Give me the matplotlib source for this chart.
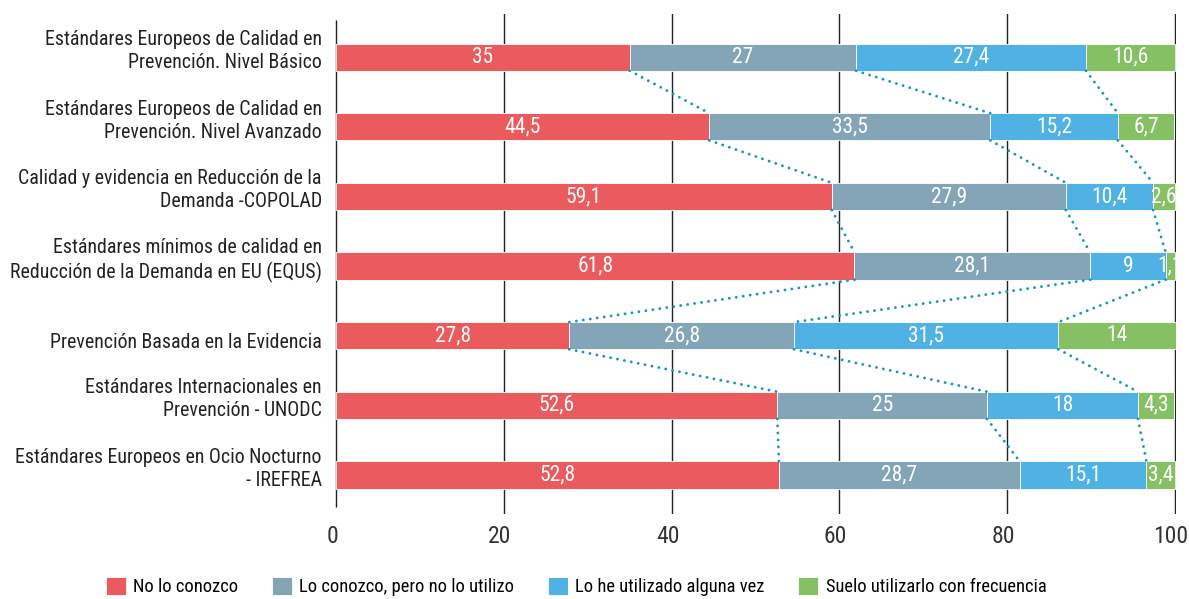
import matplotlib
matplotlib.use("Agg")
import matplotlib.pyplot as plt
from matplotlib import font_manager
from matplotlib.patches import Patch
from matplotlib.transforms import ScaledTranslation

#------------------ font: prefer a condensed face, else shrink a regular one
NARROW = {"condensed", "semi-condensed", "extra-condensed", "ultra-condensed"}


def pick_font():
    found = []
    for f in font_manager.fontManager.ttflist:
        st = f.stretch
        narrow = (str(st) in NARROW or (isinstance(st, int) and st < 500)
                  or "Condensed" in f.name or "Narrow" in f.name)
        if narrow and f.style == "normal" and f.weight in (400, "normal", "regular"):
            found.append((f.name, st))
    for pref in ("Roboto", "Noto Sans", "Open Sans", "DejaVu Sans", "Liberation"):
        for name, st in found:
            if name.startswith(pref):
                return name, st, 1.0
    if found:
        return found[0][0], found[0][1], 1.0
    return "Roboto", "normal", 0.84


FONT, STRETCH, SCALE = pick_font()
plt.rcParams["font.family"] = [FONT, "DejaVu Sans"]
plt.rcParams["font.stretch"] = STRETCH

#------------------ data
categories = [
    "Estándares Europeos de Calidad en\nPrevención. Nivel Básico",
    "Estándares Europeos de Calidad en\nPrevención. Nivel Avanzado",
    "Calidad y evidencia en Reducción de la\nDemanda -COPOLAD",
    "Estándares mínimos de calidad en\nReducción de la Demanda en EU (EQUS)",
    "Prevención Basada en la Evidencia",
    "Estándares Internacionales en\nPrevención - UNODC",
    "Estándares Europeos en Ocio Nocturno\n- IREFREA",
]
series = [
    "No lo conozco",
    "Lo conozco, pero no lo utilizo",
    "Lo he utilizado alguna vez",
    "Suelo utilizarlo con frecuencia",
]
no_conozco = [35, 44.5, 59.1, 61.8, 27.8, 52.6, 52.8]
conozco_no_utilizo = [27, 33.5, 27.9, 28.1, 26.8, 25, 28.7]
utilizado_alguna = [27.4, 15.2, 10.4, 9, 31.5, 18, 15.1]
frecuencia = [10.6, 6.7, 2.6, 1.1, 14, 4.3, 3.4]
xticks = [0, 20, 40, 60, 80, 100]

colors = ["#eb5a5c", "#84a5b7", "#50b2e4", "#86c064"]
link_color = "#1597c2"
bar_h = 0.39

values = [no_conozco, conozco_no_utilizo, utilizado_alguna, frecuencia]
ypos = list(range(len(categories)))

fig = plt.figure(figsize=(11.89, 5.99), dpi=100)
ax = fig.add_axes([0.2818, 0.142, 0.7072, 0.8346])

#------------------ stacked bars
left = [0.0] * len(categories)
edges = []
for vals, col in zip(values, colors):
    ax.barh(ypos, vals, left=left, height=bar_h, color=col,
            edgecolor="white", linewidth=0.6, zorder=3)
    for y, l, v in zip(ypos, left, vals):
        txt = f"{v:g}".replace(".", ",")
        ax.text(l + v / 2, y, txt, ha="center", va="center",
                color="white", fontsize=15.5 * SCALE, zorder=5)
    left = [l + v for l, v in zip(left, vals)]
    edges.append(list(left))

#------------------ dotted series lines between consecutive bars
for cum in edges[:-1]:
    for i in range(len(categories) - 1):
        ax.plot([cum[i], cum[i + 1]],
                [ypos[i] + bar_h / 2, ypos[i + 1] - bar_h / 2],
                color=link_color, linewidth=2.1,
                linestyle=(0, (0.01, 2.4)), dash_capstyle="round", zorder=4)

#------------------ axes styling
ax.set_xlim(-0.12, 100.12)
ax.set_ylim(6.56, -0.62)
ax.set_xticks(xticks)
ax.set_xticklabels([str(t) for t in xticks])
ax.tick_params(axis="x", length=0, pad=8, labelsize=17 * SCALE, colors="#333333")
ax.tick_params(axis="y", length=0, pad=9.5, labelsize=14.3 * SCALE, colors="#222222")
ax.set_yticks(ypos)
ax.set_yticklabels(categories, linespacing=1.25)

# tick labels sit a little left of their gridlines
shift = ScaledTranslation(-4 / 100, 0, fig.dpi_scale_trans)
for lab in ax.get_xticklabels():
    lab.set_transform(lab.get_transform() + shift)

# two-line category names ride above the bar centre, single lines just below
for lab in ax.get_yticklabels():
    dy = 10 if "\n" in lab.get_text() else -5
    lab.set_transform(lab.get_transform() + ScaledTranslation(0, dy / 100, fig.dpi_scale_trans))

for t in xticks[1:]:
    ax.axvline(t, color="#222222", linewidth=1.0, zorder=1)
ax.vlines(0, -0.53, 6.46, color="#222222", linewidth=1.0, zorder=1)
for s in ax.spines.values():
    s.set_visible(False)

#------------------ legend
handles = [Patch(facecolor=c, edgecolor="white", linewidth=0.6) for c in colors]
fig.legend(handles, series, loc="center", bbox_to_anchor=(0.4845, 0.021),
           ncol=4, frameon=False, fontsize=13.3 * SCALE, handlelength=1.1,
           handleheight=1.1, handletextpad=0.4, columnspacing=1.8)

fig.savefig("out.png", dpi=100)
